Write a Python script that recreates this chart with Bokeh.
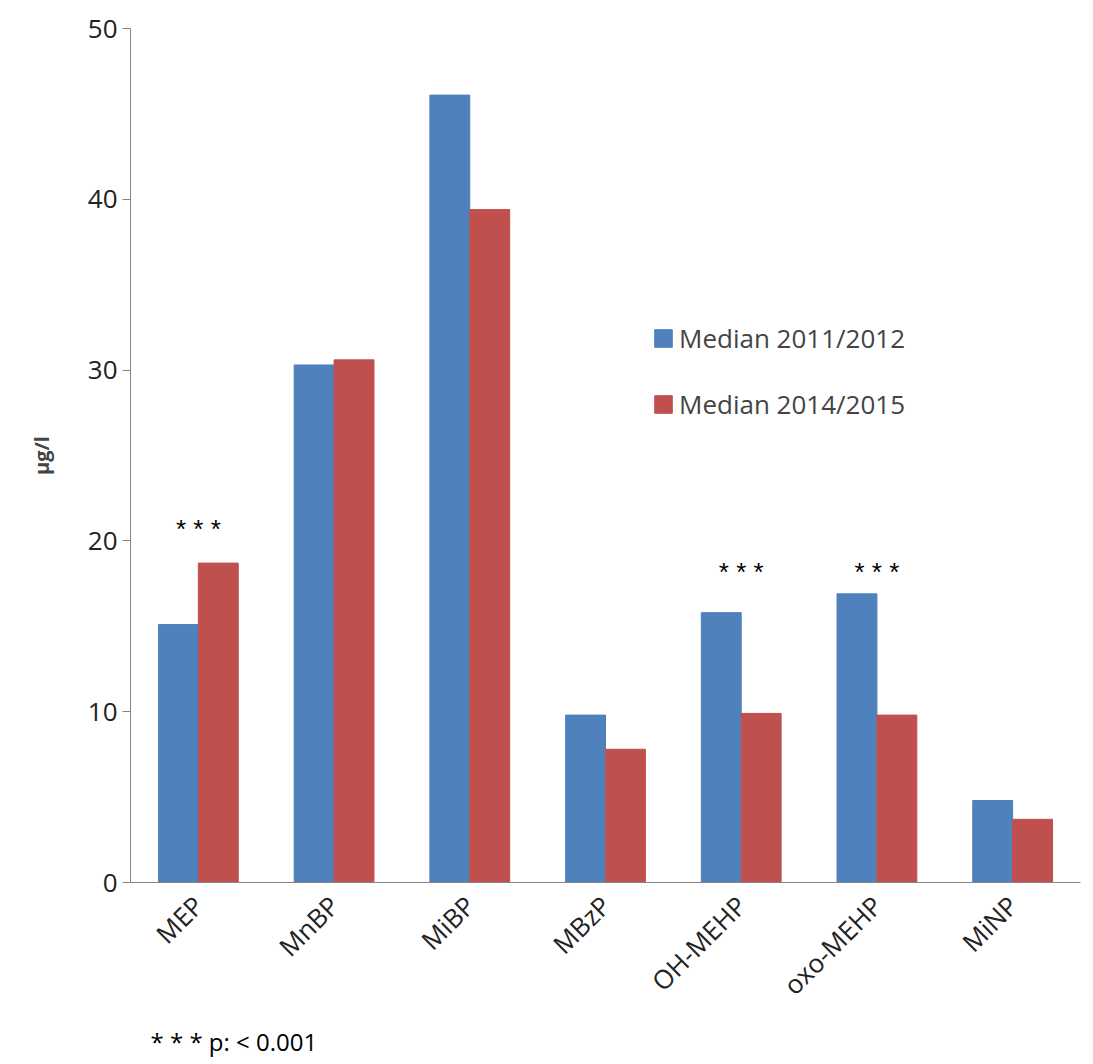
from bokeh.plotting import figure
from bokeh.models import FactorRange, Range1d, Legend, LegendItem, Title, ColumnDataSource
from bokeh.transform import dodge
from bokeh.embed import file_html
from bokeh.resources import INLINE
import math

categories = ["MEP", "MnBP", "MiBP", "MBzP", "OH-MEHP", "oxo-MEHP", "MiNP"]
median_2011 = [15.1, 30.3, 46.1, 9.8, 15.8, 16.9, 4.8]
median_2014 = [18.7, 30.6, 39.4, 7.8, 9.9, 9.8, 3.7]
star_cats = ["MEP", "OH-MEHP", "oxo-MEHP"]
star_y = [19.8, 17.3, 17.3]

src = ColumnDataSource(dict(cat=categories, a=median_2011, b=median_2014))
p = figure(x_range=FactorRange(*categories, range_padding=0), y_range=Range1d(0, 50),
           frame_width=950, frame_height=854, min_border_left=130, min_border_top=28,
           min_border_right=5, min_border_bottom=10,
           output_backend="svg", toolbar_location=None)
r1 = p.vbar(x=dodge("cat", -0.147, range=p.x_range), top="a", width=0.294, source=src, color="#4f81bd")
r2 = p.vbar(x=dodge("cat", 0.147, range=p.x_range), top="b", width=0.294, source=src, color="#c0504d")
p.text(x=star_cats, y=star_y, text=["* * *"] * 3, text_align="center", text_baseline="bottom",
       text_font_size="26px", text_color="black")

p.grid.visible = False
p.outline_line_color = None
for ax in (p.xaxis, p.yaxis):
    ax.axis_line_color = "#868686"
    ax.major_tick_line_color = "#868686"
    ax.minor_tick_line_color = None
    ax.major_label_text_font = "Open Sans"
    ax.major_label_text_color = "#222222"
    ax.major_label_text_font_size = "26px"
p.xaxis.major_tick_line_color = None
p.xaxis.major_label_orientation = math.pi / 4
p.xaxis.major_label_standoff = 12
p.yaxis.ticker = [0, 10, 20, 30, 40, 50]
p.yaxis.major_tick_in = 0
p.yaxis.major_tick_out = 8
p.yaxis.axis_label = "µg/l"
p.yaxis.axis_label_text_font = "Open Sans"
p.yaxis.axis_label_text_font_style = "bold"
p.yaxis.axis_label_text_font_size = "20px"
p.yaxis.axis_label_standoff = 30

leg = Legend(items=[LegendItem(label="Median 2011/2012", renderers=[r1]),
                    LegendItem(label="Median 2014/2015", renderers=[r2])],
             location=(522, 460), border_line_color=None, background_fill_alpha=0,
             label_text_font="Open Sans", label_text_font_size="26px", spacing=30,
             glyph_width=22, glyph_height=22)
p.add_layout(leg)
p.add_layout(Title(text="* * *  p: < 0.001", align="left", offset=20,
                   text_font="Open Sans", text_font_size="24px", text_font_style="normal",
                   text_color="black"), "below")

open("out.html", "w").write(file_html(p, INLINE))
